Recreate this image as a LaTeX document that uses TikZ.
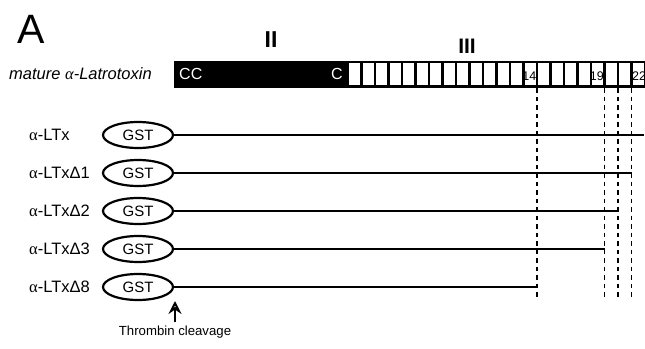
\documentclass[tikz,border=0pt]{standalone}
\usepackage{fontspec}
\setmainfont{Liberation Sans}
\newfontfamily\grk{Liberation Serif}
\usetikzlibrary{arrows.meta,shapes.geometric}
\begin{document}
\begin{tikzpicture}[x=1pt,y=-1pt,
  lbl/.style={anchor=west,font=\fontsize{16.5}{18}\selectfont,inner sep=0pt},
  gst/.style={ellipse,draw,line width=2.2pt,minimum width=70pt,minimum height=26pt,inner sep=0pt,font=\fontsize{15}{16}\selectfont},
  cons/.style={line width=2.4pt},
  cut/.style={line width=1.2pt,dash pattern=on 4.5pt off 4pt},
  cell/.style={draw=black,line width=2.8pt,fill=white},
  num/.style={font=\fontsize{12.5}{13}\selectfont,inner sep=0pt}]
\useasboundingbox (0,0) rectangle (645,348);
\node[font=\fontsize{41}{43}\selectfont] (A) at (31,29) {A};
\node[font=\fontsize{23}{24}\selectfont\bfseries] (II) at (271,40) {II};
\node[font=\fontsize{21}{22}\selectfont\bfseries] (III) at (467,46) {III};
\node[anchor=west,font=\fontsize{16.5}{18}\selectfont\itshape,inner sep=0pt] (mat) at (9,74) {mature {\grk\itshape α}-Latrotoxin};
% black domain
\fill[black] (174,60.5) rectangle (348,87.5);
\node[anchor=west,text=white,font=\fontsize{16}{17}\selectfont,inner sep=0pt] (cc) at (179,74) {CC};
\node[anchor=east,text=white,font=\fontsize{16}{17}\selectfont,inner sep=0pt] (c) at (343,74) {C};
% repeats
\foreach \i in {0,...,21}{
  \draw[cell] (348+13.5*\i,62) rectangle ++(13.5,24.5);
}
\node[num,anchor=east] (n14) at (536.5,76) {14};
\node[num,anchor=east] (n19) at (604,76) {19};
\node[num,anchor=west] (n22) at (632,76) {22};
% cut positions
\foreach \n/\x in {a/537,b/604.5,c/618,d/631.5}{
  \coordinate (t\n) at (\x,88);
  \coordinate (b\n) at (\x,297);
  \draw[cut] (t\n) -- (b\n);
}
% constructs
\foreach \k/\y/\e/\t in {0/135/644/{},1/173/631.5/Δ1,2/211/618/Δ2,3/249/604.5/Δ3,8/287/537/Δ8}{
  \node[lbl] (l\k) at (29,\y) {{\grk α}-LTx\t};
  \node[gst] (g\k) at (138,\y) {GST};
  \coordinate (e\k) at (\e,\y);
  \draw[cons] (g\k.east) -- (e\k);
}
% thrombin
\node[font=\fontsize{13.2}{14}\selectfont] (thr) at (175,332) {Thrombin cleavage};
\coordinate (tip) at (175,301);
\draw[line width=2pt,-{Stealth[open,length=13pt,width=13pt,inset=4.5pt]}] (thr.north) -- (tip);
\end{tikzpicture}
\end{document}
